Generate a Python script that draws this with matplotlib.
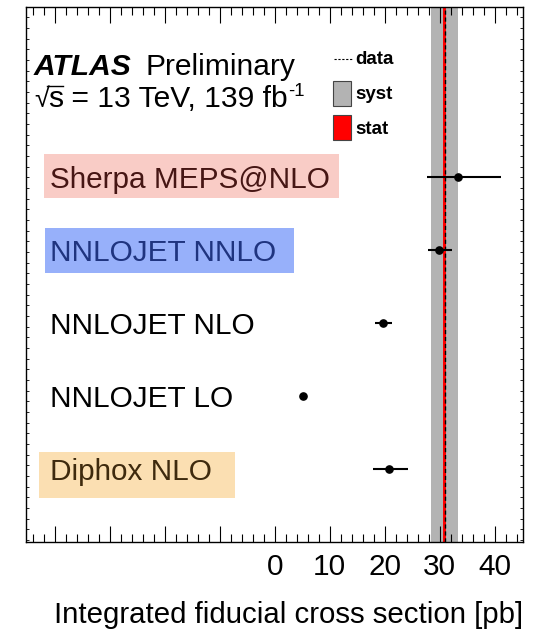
import numpy as np
import matplotlib
matplotlib.use('Agg')
import matplotlib.pyplot as plt
from matplotlib.patches import Rectangle
from matplotlib.lines import Line2D
from matplotlib import transforms
from matplotlib.ticker import FixedLocator, MultipleLocator

plt.rcParams['font.family'] = ['Liberation Sans', 'DejaVu Sans']

# ---------------- data ----------------
labels = ['Diphox NLO', 'NNLOJET LO', 'NNLOJET NLO', 'NNLOJET NNLO', 'Sherpa MEPS@NLO']
values = [20.8, 5.2, 19.6, 29.8, 33.3]
err_lo = [2.9, 0.0, 1.3, 2.0, 5.7]
err_hi = [3.4, 0.0, 1.8, 2.5, 7.8]
data_value = 30.9
stat_err = 0.3
syst_err = 2.45
tick_values = [0, 10, 20, 30, 40]
tick_labels = ['0', '10', '20', '30', '40']

box_colors = ['#fbdfb2', None, None, '#97b0fa', '#f9ccc6']
text_colors = ['#3e2a0e', 'black', 'black', '#1f347f', '#461614']
# label box extents (x0, x1 in pb ; dy0, dy1 relative to row)
box_ext = [(-42.9, -7.3, -0.39, 0.24), None, None, (-41.8, 3.45, -0.307, 0.305), (-42.0, 11.6, -0.28, 0.32)]

W, H = 539, 635
FS = 21.4
fig = plt.figure(figsize=(W / 100, H / 100), dpi=100)
L, R, T, B = 25.7, 523.3, 6.7, 542.3
ax = fig.add_axes([L / W, 1 - B / H, (R - L) / W, (B - T) / H])

def fx(px):
    return px / W

def fy(py):
    return 1 - py / H

ypos = np.arange(len(labels))
ax.set_xlim(-45.3, 45.2)
ax.set_ylim(-1.0, 6.337)

# measurement bands
ax.axvspan(data_value - syst_err, data_value + syst_err, color='#b3b3b3', lw=0, zorder=1)
ax.axvspan(data_value - stat_err, data_value + stat_err, color='#ff0000', lw=0, zorder=2)
ax.axvline(data_value, color='black', lw=1.0, ls=(0, (3, 2)), zorder=3)

# predictions
ax.errorbar(values, ypos, xerr=[err_lo, err_hi], fmt='o', color='black',
            ms=5.2, lw=1.5, capsize=0, zorder=5)

# labels with coloured boxes
txt_trans = transforms.offset_copy(ax.transData, fig=fig, x=0, y=-11, units='dots')
for i, lab in enumerate(labels):
    if box_colors[i] is not None:
        x0, x1, d0, d1 = box_ext[i]
        ax.add_patch(Rectangle((x0, ypos[i] + d0), x1 - x0, d1 - d0,
                               facecolor=box_colors[i], edgecolor='none', zorder=2))
    ax.text(-40.8, ypos[i], lab, transform=txt_trans, va='baseline', ha='left',
            fontsize=FS, color=text_colors[i], zorder=4)

# axes ticks
ax.set_xticks(list(range(-40, 41, 10)))
ax.set_xticklabels([''] * 4 + tick_labels)
ax.xaxis.set_minor_locator(MultipleLocator(2))
ax.tick_params(axis='x', which='major', direction='in', length=11.5, width=0.8,
               top=True, bottom=True, labelsize=FS, pad=8)
ax.tick_params(axis='x', which='minor', direction='in', length=5.8, width=0.8,
               top=True, bottom=True)
ax.set_yticks([])
ax.yaxis.set_minor_locator(FixedLocator(np.arange(4 - 0.1461 * 60, 6.4, 0.1461)))
ax.tick_params(axis='y', which='minor', direction='in', length=2.5, width=0.6,
               left=True, right=True, labelleft=False)
for s in ax.spines.values():
    s.set_linewidth(1.0)

renderer = fig.canvas.get_renderer()

# ATLAS text
fig.text(fx(34), fy(75), 'ATLAS', fontsize=21.6, fontweight='bold', fontstyle='italic', va='baseline')
fig.text(fx(145), fy(75), 'Preliminary', fontsize=21.6, va='baseline')

# sqrt(s) line built from pieces
base2 = 107
t_root = fig.text(fx(34), fy(base2), '\u221a', fontsize=21.6 * 0.9, va='baseline')
e_root = t_root.get_window_extent(renderer)
x_s = e_root.x1 / W - 1.0 / W
t_s = fig.text(x_s, fy(base2), 's', fontsize=21.6, va='baseline')
e_s = t_s.get_window_extent(renderer)
y_bar = fy(base2 - 21.5)
fig.add_artist(Line2D([e_root.x1 / W - 1.5 / W, e_s.x1 / W], [y_bar, y_bar], color='black',
                      lw=1.0, transform=fig.transFigure))
t_rest = fig.text(e_s.x1 / W, fy(base2), ' = 13 TeV, 139 fb', fontsize=21.6, va='baseline')
e_rest = t_rest.get_window_extent(renderer)
fig.text(e_rest.x1 / W + 0.5 / W, fy(base2 - 11), '-1', fontsize=21.6 * 0.62, va='baseline')

# legend
LS = 13.5
fig.add_artist(Line2D([fx(334), fx(353)], [fy(58.5), fy(58.5)], color='black', lw=0.8,
                      ls=(0, (2, 1.5)), transform=fig.transFigure))
fig.text(fx(355), fy(63.5), 'data', fontsize=LS, fontweight='bold', va='baseline')
fig.add_artist(Rectangle((fx(332.5), fy(106)), fx(351) - fx(332.5), fy(80.5) - fy(106),
                         facecolor='#b3b3b3', edgecolor='#444444', lw=0.8, transform=fig.transFigure))
fig.text(fx(355), fy(99), 'syst', fontsize=LS, fontweight='bold', va='baseline')
fig.add_artist(Rectangle((fx(332.5), fy(139.5)), fx(351) - fx(332.5), fy(115) - fy(139.5),
                         facecolor='#ff0000', edgecolor='#444444', lw=0.8, transform=fig.transFigure))
fig.text(fx(355), fy(134), 'stat', fontsize=LS, fontweight='bold', va='baseline')

# x label
fig.text(fx(523), fy(623), 'Integrated fiducial cross section [pb]', fontsize=21.2,
         ha='right', va='baseline')

fig.savefig('out.png', dpi=100)
